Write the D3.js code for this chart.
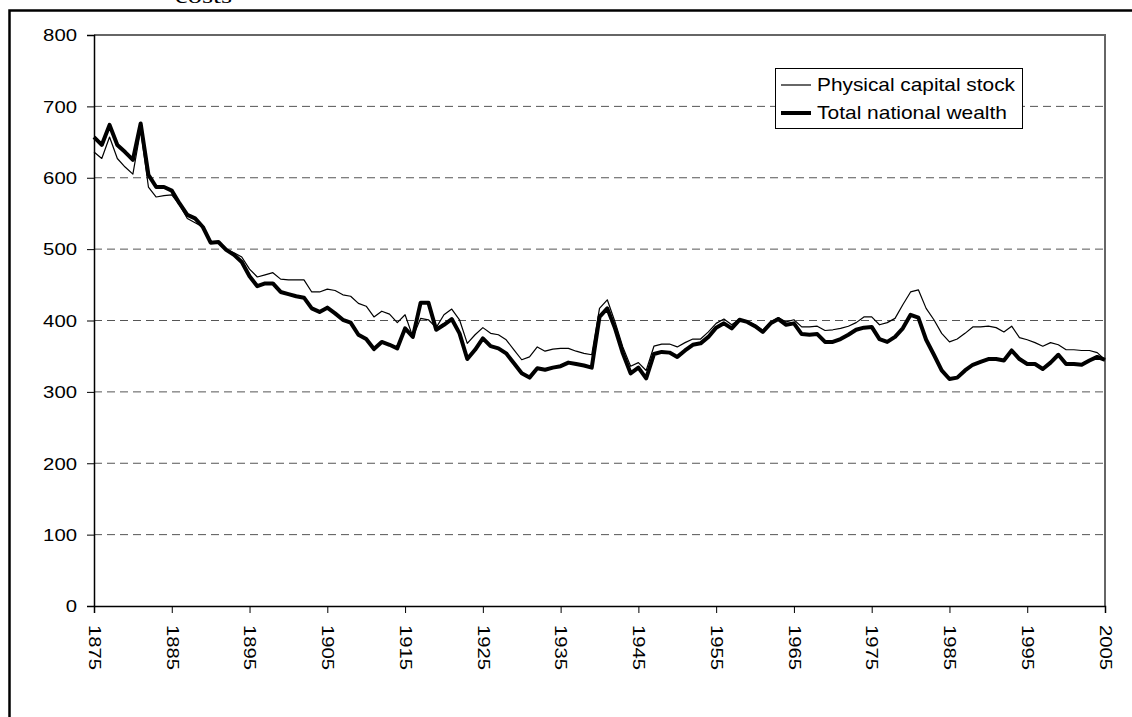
<!DOCTYPE html>
<html>
<head>
<meta charset="utf-8">
<script src="https://cdn.jsdelivr.net/npm/d3@7"></script>
<style>
  html, body { margin: 0; padding: 0; background: #fff; }
  svg { display: block; }
</style>
</head>
<body>
<svg id="chart" width="1132" height="717"></svg>
<script>
const startYear = 1875;
const endYear = 2005;

// Total national wealth (thick line), 1875-2005
const totalWealth = [
  657, 646, 674, 646, 636, 625, 676, 604, 587, 587,
  582, 564, 548, 543, 531, 509, 510, 499, 492, 482,
  462, 448, 452, 452, 440, 437, 434, 432, 417, 412,
  418, 410, 401, 397, 380, 374, 360, 370, 366, 361,
  389, 377, 425, 425, 387, 394, 402, 382, 346, 359,
  375, 364, 361, 354, 340, 326, 320, 333, 331, 334,
  336, 341, 339, 337, 334, 405, 417, 389, 354, 326,
  334, 319, 353, 356, 355, 349, 358, 366, 368, 377,
  390, 396, 389, 401, 398, 392, 384, 396, 402, 394,
  396, 381, 380, 381, 370, 370, 374, 380, 387, 390,
  391, 374, 370, 377, 389, 408, 404, 373, 352, 330,
  318, 320, 330, 338, 342, 346, 346, 344, 358, 346,
  339, 339, 332, 341, 352, 339, 339, 338, 344, 349,
  345
];

// Physical capital stock (thin line), 1875-2005
const physicalCapital = [
  636, 627, 657, 627, 615, 605, 667, 587, 573, 575,
  576, 562, 543, 537, 531, 509, 510, 500, 495, 489,
  472, 461, 464, 467, 458, 457, 457, 457, 440, 440,
  444, 442, 436, 434, 424, 420, 405, 413, 409, 397,
  408, 377, 403, 401, 390, 408, 416, 401, 368, 380,
  390, 382, 380, 373, 359, 345, 349, 363, 357, 360,
  361, 361, 357, 354, 352, 417, 429, 398, 363, 336,
  341, 330, 364, 367, 367, 363, 369, 374, 374, 384,
  396, 402, 394, 402, 399, 394, 386, 398, 404, 398,
  401, 391, 391, 392, 386, 387, 389, 392, 397, 405,
  405, 394, 397, 403, 422, 440, 443, 417, 401, 382,
  370, 374, 382, 391, 391, 392, 390, 384, 392, 376,
  373, 369, 364, 369, 366, 359, 359, 358, 358, 355,
  345
];

const yTicks = [0, 100, 200, 300, 400, 500, 600, 700, 800];
const xTicks = [1875, 1885, 1895, 1905, 1915, 1925, 1935, 1945, 1955, 1965, 1975, 1985, 1995, 2005];
const seriesNames = ["Physical capital stock", "Total national wealth"];
const titleFragment = "costs";

const years = d3.range(startYear, endYear + 1);

const svg = d3.select("#chart");
const x = d3.scaleLinear().domain([startYear, endYear]).range([94, 1105]);
const y = d3.scaleLinear().domain([0, 800]).range([606, 35]);

// Outer frame (extends beyond right/bottom of the picture)
svg.append("rect")
  .attr("x", 9.5).attr("y", 10.5)
  .attr("width", 1300).attr("height", 900)
  .attr("fill", "none").attr("stroke", "#000").attr("stroke-width", 2.5);

// Cut-off title fragment
svg.append("text")
  .attr("x", 175).attr("y", 3)
  .attr("font-family", "'Liberation Serif', 'Times New Roman', serif")
  .attr("font-size", 22)
  .attr("textLength", 57).attr("lengthAdjust", "spacingAndGlyphs")
  .text(titleFragment);

// Gridlines
svg.append("g").selectAll("line")
  .data(yTicks.filter(d => d > 0 && d < 800))
  .join("line")
  .attr("x1", x(startYear)).attr("x2", x(endYear))
  .attr("y1", d => y(d)).attr("y2", d => y(d))
  .attr("stroke", "#555").attr("stroke-width", 1)
  .attr("stroke-dasharray", "8,5");

// Plot area border (top & right)
svg.append("path")
  .attr("d", `M${x(startYear)},${y(800)}H${x(endYear)}V${y(0)}`)
  .attr("fill", "none").attr("stroke", "#666").attr("stroke-width", 2);

// Y axis
const yAxis = svg.append("g")
  .attr("transform", `translate(${x(startYear)},0)`)
  .call(d3.axisLeft(y).tickValues(yTicks).tickSize(7).tickFormat(d3.format("d")));
yAxis.select(".domain").attr("stroke", "#000").attr("stroke-width", 1.5);
yAxis.selectAll(".tick line").attr("stroke", "#000").attr("stroke-width", 1);
yAxis.selectAll(".tick text")
  .attr("x", -17)
  .attr("dy", "0.36em")
  .attr("font-family", "'Liberation Sans', Arial, sans-serif")
  .attr("font-size", 16)
  .attr("fill", "#000")
  .attr("textLength", d => String(d).length * 11.3)
  .attr("lengthAdjust", "spacingAndGlyphs");

// X axis
const xAxis = svg.append("g")
  .attr("transform", `translate(0,${y(0)})`)
  .call(d3.axisBottom(x).tickValues(xTicks).tickSize(7).tickFormat(d3.format("d")));
xAxis.select(".domain").attr("stroke", "#000").attr("stroke-width", 1.5);
xAxis.selectAll(".tick line").attr("stroke", "#000").attr("stroke-width", 1);
xAxis.selectAll(".tick text")
  .attr("transform", "translate(0,19) rotate(90)")
  .attr("x", 0).attr("y", 0)
  .attr("dy", "0.36em")
  .attr("text-anchor", "start")
  .attr("font-family", "'Liberation Sans', Arial, sans-serif")
  .attr("font-size", 16)
  .attr("fill", "#000")
  .attr("textLength", 45)
  .attr("lengthAdjust", "spacingAndGlyphs");

// Lines
const line = d3.line().x((d, i) => x(years[i])).y(d => y(d));

svg.append("path")
  .datum(physicalCapital)
  .attr("d", line)
  .attr("fill", "none").attr("stroke", "#000").attr("stroke-width", 1.2)
  .attr("stroke-linejoin", "round");

svg.append("path")
  .datum(totalWealth)
  .attr("d", line)
  .attr("fill", "none").attr("stroke", "#000").attr("stroke-width", 4)
  .attr("stroke-linejoin", "round");

// Legend
const lg = svg.append("g");
lg.append("rect")
  .attr("x", 775.5).attr("y", 68.5).attr("width", 247).attr("height", 60)
  .attr("fill", "#fff").attr("stroke", "#000").attr("stroke-width", 1);
const legendItems = [
  { name: seriesNames[0], w: 1.2, ly: 85, ty: 91, len: 198 },
  { name: seriesNames[1], w: 4, ly: 113, ty: 119, len: 190 }
];
legendItems.forEach(it => {
  lg.append("line")
    .attr("x1", 781).attr("x2", 811).attr("y1", it.ly).attr("y2", it.ly)
    .attr("stroke", "#000").attr("stroke-width", it.w);
  lg.append("text")
    .attr("x", 817).attr("y", it.ty)
    .attr("font-family", "'Liberation Sans', Arial, sans-serif")
    .attr("font-size", 19)
    .attr("fill", "#000")
    .attr("textLength", it.len).attr("lengthAdjust", "spacingAndGlyphs")
    .text(it.name);
});
</script>
</body>
</html>
